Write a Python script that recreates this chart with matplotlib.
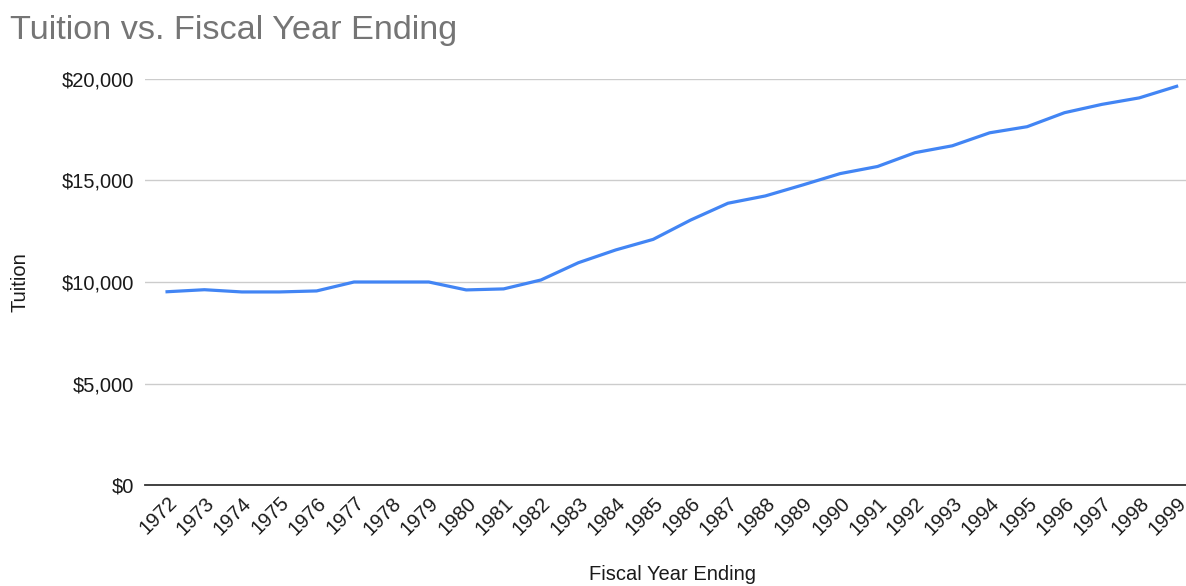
import matplotlib
matplotlib.use("Agg")
import matplotlib.pyplot as plt
from matplotlib.ticker import FuncFormatter

plt.rcParams['font.family'] = ['Liberation Sans', 'DejaVu Sans']

years = list(range(1972, 2000))
tuition = [9520, 9620, 9510, 9510, 9560, 10000, 10000, 10000, 9610, 9660,
           10100, 10950, 11580, 12100, 13050, 13880, 14240, 14780, 15340, 15690,
           16370, 16710, 17350, 17650, 18340, 18750, 19070, 19640]
y_ticks = [0, 5000, 10000, 15000, 20000]

W, H = 1186, 586
fig = plt.figure(figsize=(W / 100, H / 100), dpi=100)
ax = fig.add_axes([145 / W, 1 - 485 / H, (1186 - 145) / W, (485 - 79) / H])

ax.plot(years, tuition, color='#4285F4', lw=2.3, clip_on=False, solid_joinstyle='round')

ax.set_xlim(1971.41, 1999.25)
ax.set_ylim(0, 20000)
ax.set_yticks(y_ticks)
ax.yaxis.set_major_formatter(FuncFormatter(lambda v, p: f"${int(v):,}"))
ax.set_xticks(years)
ax.set_xticklabels([str(y) for y in years], rotation=45, ha='right', va='top',
                   rotation_mode='anchor', fontsize=14.3)
ax.tick_params(axis='both', length=0, labelsize=14.5, colors='#1a1a1a')
ax.tick_params(axis='y', pad=8)
ax.tick_params(axis='x', pad=6)

ax.grid(axis='y', color='#cccccc', lw=1)
ax.set_axisbelow(True)
for s in ['top', 'right', 'left']:
    ax.spines[s].set_visible(False)
ax.spines['bottom'].set_color('#333333')
ax.spines['bottom'].set_linewidth(1.3)

fig.text(20 / W, 1 - 282 / H, 'Tuition', rotation=90, ha='center', va='center',
         fontsize=14.5, color='#1a1a1a')
fig.text(672 / W, 1 - 574 / H, 'Fiscal Year Ending', ha='center', va='center',
         fontsize=14.5, color='#1a1a1a')
fig.text(10 / W, 1 - 30 / H, 'Tuition vs. Fiscal Year Ending', ha='left', va='center',
         fontsize=24.7, color='#757575')

fig.savefig('out.png', dpi=100, facecolor='white')
